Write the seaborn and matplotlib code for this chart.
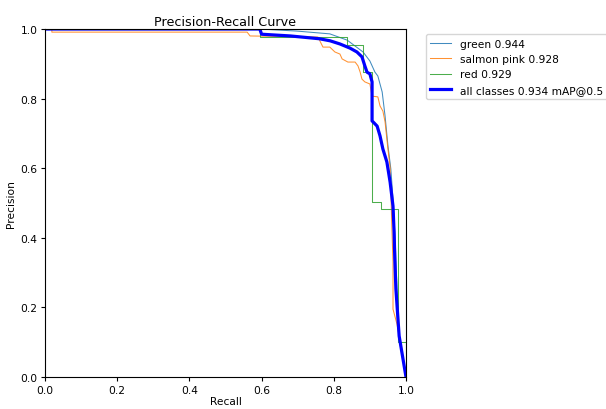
import numpy as np
import pandas as pd
import matplotlib
matplotlib.use("Agg")
import matplotlib.pyplot as plt
import seaborn as sns

# per-class PR curves
green_recall = [0.0, 0.596, 0.698, 0.789, 0.837, 0.881, 0.900, 0.914, 0.922, 0.934, 0.942, 0.950,
                0.958, 0.964, 0.970, 0.975, 0.981, 1.0]
green_prec = [1.0, 1.0, 0.994, 0.986, 0.968, 0.934, 0.908, 0.876, 0.865, 0.819, 0.750, 0.664,
              0.598, 0.511, 0.397, 0.253, 0.109, 0.0]

salmon_recall = [0.0, 0.019, 0.019, 0.560, 0.568, 0.756, 0.770, 0.789, 0.803, 0.817, 0.823, 0.839,
                 0.859, 0.867, 0.873, 0.878, 0.886, 0.900, 0.906, 0.922, 0.928, 0.936, 0.942,
                 0.947, 0.950, 0.956, 0.961, 0.964, 0.964, 0.975, 0.997, 1.0]
salmon_prec = [1.0, 1.0, 0.991, 0.991, 0.980, 0.977, 0.948, 0.948, 0.934, 0.928, 0.914, 0.905,
               0.905, 0.894, 0.876, 0.856, 0.848, 0.842, 0.807, 0.805, 0.779, 0.764, 0.733,
               0.684, 0.655, 0.603, 0.425, 0.330, 0.195, 0.152, 0.023, 0.0]

red_recall = [0.0, 0.596, 0.596, 0.837, 0.837, 0.881, 0.881, 0.906, 0.906, 0.931, 0.931, 0.978,
              0.978, 1.0, 1.0]
red_prec = [1.0, 1.0, 0.977, 0.977, 0.954, 0.954, 0.876, 0.876, 0.503, 0.503, 0.483, 0.483,
            0.101, 0.101, 0.0]

all_recall = [0.0, 0.595, 0.600, 0.680, 0.760, 0.790, 0.817, 0.845, 0.864, 0.878, 0.886, 0.892,
              0.900, 0.906, 0.906, 0.920, 0.928, 0.936, 0.947, 0.956, 0.964, 0.967, 0.969,
              0.972, 0.981, 1.0]
all_prec = [1.0, 1.0, 0.985, 0.980, 0.972, 0.966, 0.957, 0.945, 0.934, 0.920, 0.894, 0.876,
            0.871, 0.848, 0.736, 0.721, 0.693, 0.655, 0.618, 0.560, 0.491, 0.417, 0.339,
            0.253, 0.118, 0.0]

labels = ["green 0.944", "salmon pink 0.928", "red 0.929", "all classes 0.934 mAP@0.5"]

plt.rcParams["font.size"] = 7.7
plt.rcParams["font.family"] = ["DejaVu Sans"]

fig = plt.figure(figsize=(6.06, 4.10), dpi=100)
ax = fig.add_axes([45/606, 32/410, 361/606, 348/410])

series = [(green_recall, green_prec, "#1f77b4", 0.75),
          (salmon_recall, salmon_prec, "#ff7f0e", 0.75),
          (red_recall, red_prec, "#2ca02c", 0.75),
          (all_recall, all_prec, "blue", 2.3)]

for (r, p, c, lw), lab in zip(series, labels):
    d = pd.DataFrame({"recall": r, "precision": p})
    sns.lineplot(data=d, x="recall", y="precision", sort=False, estimator=None,
                 color=c, linewidth=lw, alpha=0.85 if lw < 1 else 1.0, label=lab, ax=ax)

ax.set_xlim(0, 1)
ax.set_ylim(0, 1)
ax.set_xlabel("Recall", fontsize=7.7, labelpad=1)
ax.set_ylabel("Precision", fontsize=7.7, labelpad=3)
ax.set_title("Precision-Recall Curve", fontsize=9.2, pad=3)
ax.tick_params(labelsize=7.7, length=3, pad=2.5)
ax.legend(bbox_to_anchor=(1.04, 1), loc="upper left", fontsize=7.7)

plt.savefig("out.png", dpi=100)
plt.close()
